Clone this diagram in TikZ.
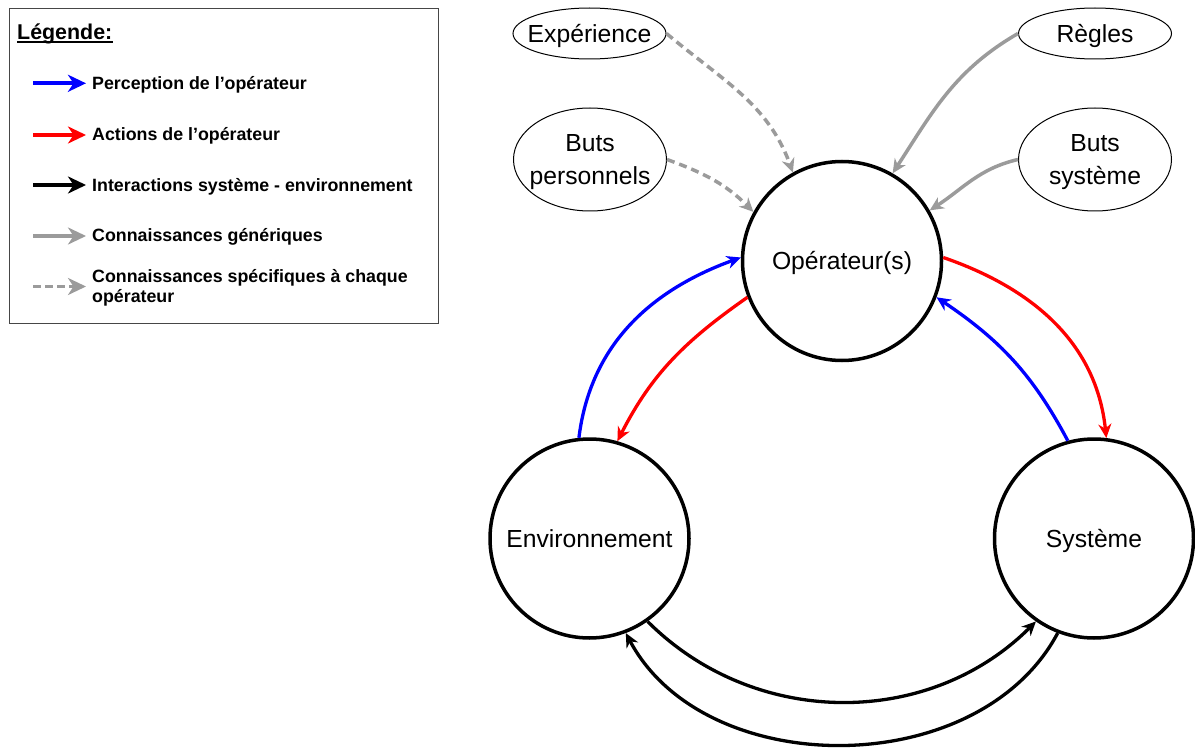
\documentclass[tikz,border=0pt]{standalone}
\usepackage{fontspec}
\setmainfont{Liberation Sans}
\usetikzlibrary{arrows.meta,shapes.geometric}

\definecolor{percblue}{RGB}{0,0,255}
\definecolor{actred}{RGB}{255,0,0}
\definecolor{knowgray}{RGB}{155,155,155}
\definecolor{framegray}{RGB}{70,70,70}

\begin{document}
\begin{tikzpicture}[x=1pt,y=1pt,
  lbl/.style={font=\fontsize{24.7}{33}\selectfont, inner sep=0pt,
              text height=17.7pt, text depth=0pt},
  bigcircle/.style={lbl, circle, draw, line width=3.5pt, minimum size=199pt},
  bubble/.style={lbl, ellipse, draw, line width=1pt, minimum width=153pt},
  tip/.style={-{Stealth[length=14pt,width=13pt,inset=4.5pt]}},
  flow/.style={tip, line width=3.3pt},
  perc/.style={flow, draw=percblue},
  act/.style={flow, draw=actred},
  inter/.style={flow, draw=black},
  gen/.style={flow, draw=knowgray, line width=3.5pt},
  spec/.style={gen, dash pattern=on 8pt off 5pt},
  legtip/.style={-{Stealth[length=18pt,width=17pt,inset=5.5pt]}, line width=3.8pt},
  legtext/.style={font=\fontsize{17.8}{20}\selectfont\bfseries, anchor=west,
                  inner sep=0pt, text height=12.7pt, text depth=0pt, align=left}
]
\useasboundingbox (0,0) rectangle (1195,-749);

% ---------- legend ----------
\draw[framegray, line width=1pt] (9,-9) rectangle (438.7,-323.3);
\node[font=\fontsize{21.4}{24}\selectfont\bfseries, inner sep=0pt, anchor=base west]
  (legtitle) at (17,-40) {Légende:};
\draw[line width=2pt] ([yshift=-2pt]legtitle.base west) -- ([yshift=-2pt]legtitle.base east);

\coordinate (la1) at (33,-83.3);  \coordinate (lb1) at (86,-83.3);
\coordinate (la2) at (33,-135);   \coordinate (lb2) at (86,-135);
\coordinate (la3) at (33,-185);   \coordinate (lb3) at (86,-185);
\coordinate (la4) at (33,-236);   \coordinate (lb4) at (86,-236);
\coordinate (la5) at (33,-286.5); \coordinate (lb5) at (86,-286.5);

\draw[legtip, percblue] (la1) -- (lb1);
\draw[legtip, actred] (la2) -- (lb2);
\draw[legtip, black] (la3) -- (lb3);
\draw[legtip, knowgray] (la4) -- (lb4);
\draw[legtip, knowgray, dash pattern=on 8pt off 4pt] (la5) -- (lb5);

\node[legtext] (lt1) at (92,-83.3) {Perception de l’opérateur};
\node[legtext] (lt2) at (92,-134.3) {Actions de l’opérateur};
\node[legtext] (lt3) at (92,-184.7) {Interactions système - environnement};
\node[legtext] (lt4) at (92,-235.2) {Connaissances génériques};
\node[legtext, text height=32.7pt] (lt5) at (92,-286.3)
  {Connaissances spécifiques à chaque\\opérateur};

% ---------- main actors ----------
\node[bigcircle] (op)  at (842,-261)    {Opérateur(s)};
\node[bigcircle] (env) at (589.5,-538.5) {Environnement};
\node[bigcircle] (sys) at (1094,-538.5)  {Système};

% ---------- knowledge sources ----------
\node[bubble, minimum height=51pt] (exp) at (589.5,-33.5) {\makebox[0pt]{Expérience}};
\node[bubble, minimum height=51pt] (reg) at (1095,-33.5) {\makebox[0pt]{Règles}};
\node[bubble, minimum height=103pt, align=center, text height=50.7pt] (bp) at (590,-159.5)
  {\makebox[0pt]{Buts}\\\makebox[0pt]{personnels}};
\node[bubble, minimum height=103pt, align=center, text height=50.7pt] (bs) at (1095,-159.5)
  {\makebox[0pt]{Buts}\\\makebox[0pt]{système}};

% ---------- knowledge links ----------
\draw[spec] (exp.east) to[out=-40,in=110] (op.119);
\draw[spec] (bp.east) to[out=-20,in=135] (op.151);
\draw[gen] (reg.west) to[out=210,in=57] (op.60);
\draw[gen] (bs.west) to[out=193,in=33] (op.30);

% ---------- perception and actions ----------
\draw[perc] (env.96) to[out=83,in=200] (op.178);
\draw[act] (op.-159) to[out=215,in=63] (env.74);
\draw[act] (op.2) to[out=-19,in=96] (sys.83);
\draw[perc] (sys.105) to[out=118,in=-34] (op.-21);

% ---------- system / environment interactions ----------
\draw[inter] (env.-55) to[out=-45,in=-135] (sys.-125);
\draw[inter] (sys.-111) to[out=-118,in=-62] (env.-69);
\end{tikzpicture}
\end{document}
